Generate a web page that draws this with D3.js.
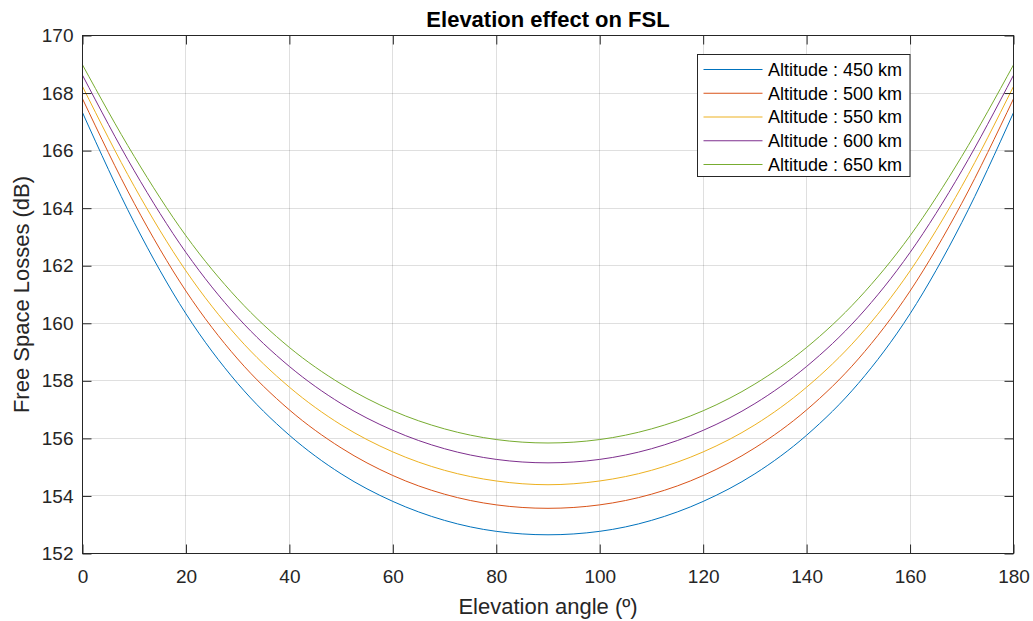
<!DOCTYPE html>
<html>
<head>
<meta charset="utf-8">
<script src="https://cdn.jsdelivr.net/npm/d3@7"></script>
<style>
  html, body { margin: 0; padding: 0; background: #ffffff; }
  svg { display: block; font-family: "Liberation Sans", Arial, Helvetica, sans-serif; }
</style>
</head>
<body>
<svg id="chart" width="1033" height="621"></svg>
<script>
// Elevation angles (degrees)
const angles = [0, 10, 20, 30, 40, 50, 60, 70, 80, 90, 100, 110, 120, 130, 140, 150, 160, 170, 180];

// Free space losses (dB) per orbit altitude
const fsl450 = [167.32, 163.50, 160.33, 157.91, 156.11, 154.77, 153.81, 153.15, 152.77, 152.65,
                152.77, 153.15, 153.81, 154.77, 156.11, 157.91, 160.33, 163.50, 167.32];
const fsl500 = [167.80, 164.17, 161.12, 158.76, 156.99, 155.67, 154.71, 154.06, 153.69, 153.57,
                153.69, 154.06, 154.71, 155.67, 156.99, 158.76, 161.12, 164.17, 167.80];
const fsl550 = [168.23, 164.76, 161.82, 159.52, 157.78, 156.47, 155.53, 154.89, 154.52, 154.39,
                154.52, 154.89, 155.53, 156.47, 157.78, 159.52, 161.82, 164.76, 168.23];
const fsl600 = [168.62, 165.30, 162.46, 160.21, 158.50, 157.21, 156.28, 155.64, 155.27, 155.15,
                155.27, 155.64, 156.28, 157.21, 158.50, 160.21, 162.46, 165.30, 168.62];
const fsl650 = [168.98, 165.80, 163.04, 160.85, 159.16, 157.89, 156.96, 156.33, 155.96, 155.84,
                155.96, 156.33, 156.96, 157.89, 159.16, 160.85, 163.04, 165.80, 168.98];

const seriesNames = ["Altitude : 450 km", "Altitude : 500 km", "Altitude : 550 km",
                     "Altitude : 600 km", "Altitude : 650 km"];
const seriesColors = ["#0072BD", "#D95319", "#EDB120", "#7E2F8E", "#77AC30"];

const xTicks = [0, 20, 40, 60, 80, 100, 120, 140, 160, 180];
const yTicks = [152, 154, 156, 158, 160, 162, 164, 166, 168, 170];

const titleText = "Elevation effect on FSL";
const xLabel = "Elevation angle (º)";
const yLabel = "Free Space Losses (dB)";

// ---- layout ----
const svg = d3.select("#chart");
const plotLeft = 82.5, plotRight = 1013.5, plotTop = 35.5, plotBottom = 553.5;
const axisColor = "#262626";

const x = d3.scaleLinear().domain([0, 180]).range([plotLeft, plotRight]);
const y = d3.scaleLinear().domain([152, 170]).range([plotBottom, plotTop]);

// plot background
svg.append("rect")
  .attr("x", plotLeft).attr("y", plotTop)
  .attr("width", plotRight - plotLeft).attr("height", plotBottom - plotTop)
  .attr("fill", "#ffffff");

// grid
const grid = svg.append("g").attr("stroke", axisColor).attr("stroke-opacity", 0.15).attr("stroke-width", 1);
grid.selectAll("line.gx").data(xTicks).join("line").attr("class", "gx")
  .attr("x1", d => Math.round(x(d) - 0.5) + 0.5).attr("x2", d => Math.round(x(d) - 0.5) + 0.5)
  .attr("y1", plotTop).attr("y2", plotBottom);
grid.selectAll("line.gy").data(yTicks).join("line").attr("class", "gy")
  .attr("y1", d => Math.round(y(d) - 0.5) + 0.5).attr("y2", d => Math.round(y(d) - 0.5) + 0.5)
  .attr("x1", plotLeft).attr("x2", plotRight);

// series
const series = [fsl450, fsl500, fsl550, fsl600, fsl650];
const line = d3.line()
  .x((d, i) => x(angles[i]))
  .y(d => y(d))
  .curve(d3.curveMonotoneX);

svg.append("g").selectAll("path").data(series).join("path")
  .attr("d", d => line(d))
  .attr("fill", "none")
  .attr("stroke", (d, i) => seriesColors[i])
  .attr("stroke-width", 1);

// axes with inward ticks
function styleAxis(g) {
  g.selectAll(".domain").remove();
  g.selectAll(".tick line").attr("stroke", axisColor).attr("stroke-width", 1);
  g.selectAll(".tick text").attr("fill", axisColor).attr("font-size", 19)
    .attr("font-family", "Liberation Sans, Arial, sans-serif");
}
const tickLen = 9;
svg.append("g").attr("transform", `translate(0,${plotBottom})`)
  .call(d3.axisBottom(x).tickValues(xTicks).tickSize(-tickLen).tickSizeOuter(0).tickPadding(16))
  .call(styleAxis);
svg.append("g").attr("transform", `translate(0,${plotTop})`)
  .call(d3.axisTop(x).tickValues(xTicks).tickSize(-tickLen).tickSizeOuter(0).tickFormat(""))
  .call(styleAxis);
svg.append("g").attr("transform", `translate(${plotLeft},0)`)
  .call(d3.axisLeft(y).tickValues(yTicks).tickSize(-tickLen).tickSizeOuter(0).tickPadding(9))
  .call(styleAxis);
svg.append("g").attr("transform", `translate(${plotRight},0)`)
  .call(d3.axisRight(y).tickValues(yTicks).tickSize(-tickLen).tickSizeOuter(0).tickFormat(""))
  .call(styleAxis);

// axes box
svg.append("rect")
  .attr("x", plotLeft).attr("y", plotTop)
  .attr("width", plotRight - plotLeft).attr("height", plotBottom - plotTop)
  .attr("fill", "none").attr("stroke", axisColor).attr("stroke-width", 1);

// title and labels
svg.append("text")
  .attr("x", (plotLeft + plotRight) / 2).attr("y", 27)
  .attr("text-anchor", "middle").attr("font-weight", "bold").attr("font-size", 22)
  .attr("fill", "#000000").text(titleText);
svg.append("text")
  .attr("x", (plotLeft + plotRight) / 2).attr("y", 614)
  .attr("text-anchor", "middle").attr("font-size", 22)
  .attr("fill", axisColor).text(xLabel);
svg.append("text")
  .attr("transform", `translate(29,${(plotTop + plotBottom) / 2}) rotate(-90)`)
  .attr("text-anchor", "middle").attr("font-size", 22)
  .attr("fill", axisColor).text(yLabel);

// legend
const legX = 697.5, legY = 54.5, legW = 212.5, legH = 122;
const legend = svg.append("g");
legend.append("rect")
  .attr("x", legX).attr("y", legY).attr("width", legW).attr("height", legH)
  .attr("fill", "#ffffff").attr("stroke", axisColor).attr("stroke-width", 1);
const rowStep = 23.75, firstRow = 69.5;
const items = legend.selectAll("g.item").data(seriesNames).join("g").attr("class", "item")
  .attr("transform", (d, i) => `translate(0,${firstRow + i * rowStep})`);
items.append("line")
  .attr("x1", 703.5).attr("x2", 762.5).attr("y1", 0).attr("y2", 0)
  .attr("stroke", (d, i) => seriesColors[i]).attr("stroke-width", 1);
items.append("text")
  .attr("x", 768).attr("y", 0).attr("dy", "0.35em")
  .attr("font-size", 18).attr("fill", "#000000")
  .text(d => d);
</script>
</body>
</html>
